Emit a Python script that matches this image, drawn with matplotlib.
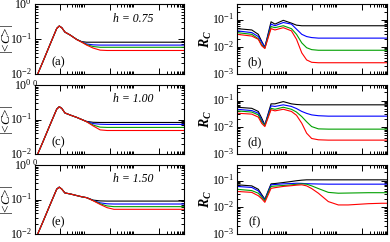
import matplotlib
matplotlib.use("Agg")
import matplotlib.pyplot as plt
import matplotlib.transforms as mtransforms
import numpy as np
from matplotlib.ticker import FixedLocator, NullFormatter, FuncFormatter

plt.rcParams['font.family'] = ['Liberation Serif', 'DejaVu Serif']
plt.rcParams['mathtext.fontset'] = 'custom'
plt.rcParams['mathtext.rm'] = 'Liberation Serif'
plt.rcParams['mathtext.it'] = 'Liberation Serif:italic'
plt.rcParams['mathtext.bf'] = 'Liberation Serif:bold:italic'

# time grids (log axis)
t_left = [0.1, 0.2, 0.4, 0.75, 0.95, 1.2, 1.6, 2.6, 4.8, 7.6, 12, 22, 42, 80, 150, 1000, 100000]
t_right = [0.1, 0.39, 0.71, 0.97, 1.3, 2.3, 3.3, 7.1, 15, 24, 39, 61, 97, 180, 450, 1130, 2800, 18000, 62000, 100000]

# |<C>| panels (a), (c), (e): black, blue, green, red
c_a_black = [0.0066, 0.021, 0.069, 0.2, 0.235, 0.21, 0.158, 0.13, 0.097, 0.084, 0.081, 0.081, 0.081, 0.081, 0.081, 0.081, 0.081]
c_a_blue  = [0.0066, 0.021, 0.069, 0.2, 0.235, 0.21, 0.158, 0.13, 0.097, 0.083, 0.072, 0.068, 0.067, 0.067, 0.067, 0.067, 0.067]
c_a_green = [0.0066, 0.021, 0.069, 0.2, 0.235, 0.21, 0.158, 0.13, 0.097, 0.082, 0.069, 0.061, 0.058, 0.058, 0.058, 0.058, 0.058]
c_a_red   = [0.0066, 0.021, 0.069, 0.2, 0.235, 0.21, 0.158, 0.13, 0.096, 0.081, 0.067, 0.055, 0.048, 0.047, 0.047, 0.047, 0.047]

c_c_black = [0.0066, 0.021, 0.069, 0.2, 0.235, 0.21, 0.155, 0.135, 0.115, 0.1, 0.088, 0.083, 0.082, 0.082, 0.082, 0.082, 0.082]
c_c_blue  = [0.0066, 0.021, 0.069, 0.2, 0.235, 0.21, 0.155, 0.135, 0.115, 0.1, 0.087, 0.076, 0.073, 0.072, 0.072, 0.072, 0.072]
c_c_green = [0.0066, 0.021, 0.069, 0.2, 0.235, 0.21, 0.155, 0.135, 0.115, 0.1, 0.086, 0.069, 0.06, 0.059, 0.059, 0.059, 0.059]
c_c_red   = [0.0066, 0.021, 0.069, 0.2, 0.235, 0.21, 0.155, 0.135, 0.115, 0.1, 0.086, 0.065, 0.05, 0.048, 0.048, 0.048, 0.048]

c_e_black = [0.0066, 0.021, 0.069, 0.2, 0.228, 0.2, 0.155, 0.145, 0.13, 0.12, 0.113, 0.096, 0.091, 0.09, 0.09, 0.09, 0.09]
c_e_blue  = [0.0066, 0.021, 0.069, 0.2, 0.228, 0.2, 0.155, 0.145, 0.13, 0.12, 0.113, 0.094, 0.08, 0.075, 0.074, 0.074, 0.074]
c_e_green = [0.0066, 0.021, 0.069, 0.2, 0.228, 0.2, 0.155, 0.145, 0.13, 0.12, 0.113, 0.093, 0.075, 0.065, 0.062, 0.062, 0.062]
c_e_red   = [0.0066, 0.021, 0.069, 0.2, 0.228, 0.2, 0.155, 0.145, 0.13, 0.12, 0.113, 0.092, 0.072, 0.058, 0.052, 0.052, 0.052]

# R_C panels (b), (d), (f)
r_b_black = [0.047, 0.042, 0.029, 0.016, 0.0097, 0.084, 0.069, 0.095, 0.075, 0.063, 0.06, 0.06, 0.06, 0.06, 0.06, 0.06, 0.06, 0.06, 0.06, 0.06]
r_b_blue  = [0.039, 0.0335, 0.024, 0.015, 0.0097, 0.069, 0.06, 0.079, 0.069, 0.045, 0.029, 0.024, 0.022, 0.021, 0.021, 0.021, 0.021, 0.021, 0.021, 0.021]
r_b_green = [0.0335, 0.029, 0.02, 0.012, 0.009, 0.056, 0.051, 0.06, 0.047, 0.029, 0.014, 0.0093, 0.0079, 0.0075, 0.0075, 0.0075, 0.0075, 0.0075, 0.0075, 0.0075]
r_b_red   = [0.029, 0.025, 0.019, 0.011, 0.0087, 0.047, 0.042, 0.051, 0.039, 0.019, 0.006, 0.0033, 0.0027, 0.0026, 0.0026, 0.0026, 0.0026, 0.0026, 0.0026, 0.0026]

r_d_black = [0.056, 0.051, 0.039, 0.022, 0.0122, 0.075, 0.075, 0.091, 0.075, 0.071, 0.069, 0.069, 0.069, 0.069, 0.069, 0.069, 0.069, 0.069, 0.069, 0.069]
r_d_blue  = [0.047, 0.042, 0.0335, 0.018, 0.0122, 0.063, 0.06, 0.069, 0.06, 0.05, 0.039, 0.033, 0.029, 0.027, 0.026, 0.026, 0.026, 0.026, 0.026, 0.026]
r_d_green = [0.041, 0.037, 0.029, 0.016, 0.0116, 0.051, 0.047, 0.056, 0.047, 0.037, 0.025, 0.016, 0.0106, 0.0087, 0.0085, 0.0085, 0.0085, 0.0085, 0.0085, 0.0085]
r_d_red   = [0.0335, 0.031, 0.024, 0.014, 0.0106, 0.045, 0.041, 0.047, 0.039, 0.028, 0.0141, 0.006, 0.0038, 0.0034, 0.0033, 0.0033, 0.0033, 0.0033, 0.0033, 0.0033]

r_f_black = [0.069, 0.063, 0.047, 0.03, 0.02, 0.075, 0.077, 0.084, 0.092, 0.098, 0.103, 0.106, 0.106, 0.106, 0.106, 0.106, 0.106, 0.106, 0.106, 0.106]
r_f_blue  = [0.06, 0.055, 0.041, 0.027, 0.0188, 0.069, 0.071, 0.075, 0.077, 0.079, 0.078, 0.076, 0.075, 0.074, 0.073, 0.073, 0.073, 0.073, 0.073, 0.073]
r_f_green = [0.047, 0.042, 0.0335, 0.024, 0.0178, 0.06, 0.062, 0.065, 0.069, 0.072, 0.075, 0.073, 0.063, 0.05, 0.036, 0.0335, 0.034, 0.035, 0.035, 0.035]
r_f_red   = [0.039, 0.036, 0.027, 0.021, 0.0153, 0.051, 0.054, 0.06, 0.064, 0.067, 0.069, 0.063, 0.05, 0.0335, 0.0163, 0.0122, 0.0122, 0.0136, 0.0141, 0.0141]

h_labels = ['h = 0.75', 'h = 1.00', 'h = 1.50']
colors = ['black', 'blue', '#00a000', 'red']

left_data = [
    [c_a_black, c_a_blue, c_a_green, c_a_red],
    [c_c_black, c_c_blue, c_c_green, c_c_red],
    [c_e_black, c_e_blue, c_e_green, c_e_red],
]
right_data = [
    [r_b_black, r_b_blue, r_b_green, r_b_red],
    [r_d_black, r_d_blue, r_d_green, r_d_red],
    [r_f_black, r_f_blue, r_f_green, r_f_red],
]

W, H = 390, 242
fig = plt.figure(figsize=(3.9, 2.42), dpi=100)

rows = [(4, 74), (85, 154), (165, 234)]
xmajor = [1, 100, 10000]
xminor = [m * k for m in xmajor for k in range(2, 10)]

# nudge y tick labels up a little, like the original
lift = mtransforms.ScaledTranslation(0, 1.5 / 100, fig.dpi_scale_trans)


def sci(v, pos):
    e = int(round(np.log10(v)))
    return r'$\mathregular{10^{%d}}$' % e


def style(ax, ylo, yhi, ydecades):
    ax.set_xscale('log')
    ax.set_yscale('log')
    ax.set_xlim(0.1, 1e5)
    ax.set_ylim(ylo, yhi)
    ax.xaxis.set_major_locator(FixedLocator(xmajor))
    ax.xaxis.set_minor_locator(FixedLocator(xminor))
    ax.xaxis.set_major_formatter(NullFormatter())
    ax.xaxis.set_minor_formatter(NullFormatter())
    ax.yaxis.set_major_locator(FixedLocator([10.0 ** d for d in ydecades]))
    ax.yaxis.set_minor_locator(FixedLocator([k * 10.0 ** d for d in ydecades for k in range(2, 10)]))
    ax.yaxis.set_major_formatter(FuncFormatter(sci))
    ax.yaxis.set_minor_formatter(NullFormatter())
    ax.tick_params(which='both', direction='in', top=True, right=True, width=0.7)
    ax.tick_params(which='major', length=4, labelsize=8.5, pad=2)
    ax.tick_params(which='minor', length=2)
    for s in ax.spines.values():
        s.set_linewidth(0.8)
    for lab in ax.get_yticklabels():
        lab.set_transform(lab.get_transform() + lift)


letters_left = ['(a)', '(c)', '(e)']
letters_right = ['(b)', '(d)', '(f)']

for i, (top, bot) in enumerate(rows):
    y0 = 1 - bot / H
    hh = (bot - top) / H
    axl = fig.add_axes([35 / W, y0, (184 - 35) / W, hh])
    for vals, c in zip(left_data[i], colors):
        axl.plot(t_left, vals, color=c, lw=0.8)
    style(axl, 1e-2, 1.0, [-2, -1, 0])
    axl.set_ylabel(r'|<$\mathit{C}$>|', fontsize=9.5)
    axl.yaxis.set_label_coords(-0.135, 0.5)
    axl.text(0.155, 0.17, letters_left[i], transform=axl.transAxes, fontsize=9,
             ha='center', va='center')
    axl.text(0.66, 0.79, h_labels[i], transform=axl.transAxes, fontsize=8.5,
             style='italic', ha='center', va='center')

    axr = fig.add_axes([237 / W, y0, (387 - 237) / W, hh])
    for vals, c in zip(right_data[i], colors):
        axr.plot(t_right, vals, color=c, lw=0.8)
    style(axr, 1e-3, 0.38, [-3, -2, -1])
    axr.set_ylabel(r'$\mathbf{R}_{\mathbf{C}}$', fontsize=10)
    axr.yaxis.set_label_coords(-0.15, 0.5)
    axr.text(0.12, 0.17, letters_right[i], transform=axr.transAxes, fontsize=9,
             ha='center', va='center')

fig.text(35 / W, 1 - 83.5 / H, '0', fontsize=6, ha='center', va='center')
fig.text(35 / W, 1 - 163 / H, '0', fontsize=6, ha='center', va='center')

fig.savefig('out.png', dpi=100)
